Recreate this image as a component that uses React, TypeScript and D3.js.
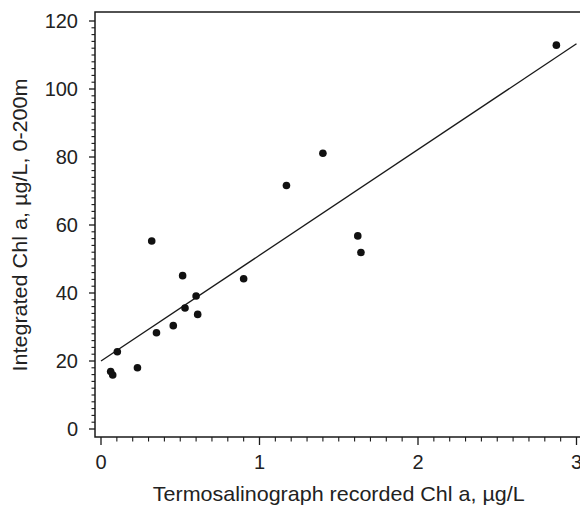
import React from "react";
import * as d3 from "d3";

const xValues = [0.061, 0.074, 0.103, 0.23, 0.32, 0.35, 0.456, 0.515, 0.53, 0.6, 0.61, 0.9, 1.17, 1.4, 1.62, 1.64, 2.873];
const yValues = [16.9, 15.9, 22.7, 18.0, 55.3, 28.3, 30.4, 45.1, 35.6, 39.1, 33.7, 44.2, 71.6, 81.1, 56.8, 51.9, 112.9];
const fitIntercept = 20.0;
const fitSlope = 31.1;
const xMajorTicks = [0, 1, 2, 3];
const yMajorTicks = [0, 20, 40, 60, 80, 100, 120];
const xTitle = "Termosalinograph recorded Chl a, \u00b5g/L";
const yTitle = "Integrated Chl a, \u00b5g/L, 0-200m";

const W = 580;
const H = 506;
const FONT = "'Liberation Sans', Arial, sans-serif";

export default function App() {
  const x = d3.scaleLinear().domain([0, 3]).range([101, 576.5]);
  const y = d3.scaleLinear().domain([0, 120]).range([429, 21]);
  const frameLeft = 95;
  const frameBottom = 437;
  const frameTop = 12;
  const frameRight = 584;

  const xMinor = d3.range(0, 31).map((i) => i / 10).filter((v) => !xMajorTicks.includes(v));
  const yMinor = d3.range(0, 61).map((i) => i * 2).filter((v) => v % 20 !== 0);

  const line = d3
    .line<number>()
    .x((d) => x(d))
    .y((d) => y(fitIntercept + fitSlope * d));

  const stroke = "#1a1a1a";

  return (
    <svg
      width={W}
      height={H}
      style={{ position: "absolute", left: 0, top: 0, background: "#fff" }}
      fontFamily={FONT}
    >
      <rect x={0} y={0} width={W} height={H} fill="#fff" />
      <path
        d={`M${frameRight},${frameTop}H${frameLeft}V${frameBottom}H${frameRight}`}
        fill="none"
        stroke={stroke}
        strokeWidth={1.5}
      />
      {yMajorTicks.map((t) => (
        <g key={"ym" + t}>
          <line x1={frameLeft - 6} x2={frameLeft} y1={y(t)} y2={y(t)} stroke={stroke} strokeWidth={1.3} />
          <text x={78} y={y(t) + 7} textAnchor="end" fontSize={20} fill="#222">
            {t}
          </text>
        </g>
      ))}
      {yMinor.map((t) => (
        <line key={"yn" + t} x1={frameLeft - 3.5} x2={frameLeft} y1={y(t)} y2={y(t)} stroke={stroke} strokeWidth={1.1} />
      ))}
      {xMajorTicks.map((t) => (
        <g key={"xm" + t}>
          <line x1={x(t)} x2={x(t)} y1={frameBottom} y2={frameBottom + 8} stroke={stroke} strokeWidth={1.3} />
          <text x={x(t)} y={469} textAnchor="middle" fontSize={20} fill="#222">
            {t}
          </text>
        </g>
      ))}
      {xMinor.map((t) => (
        <line key={"xn" + t} x1={x(t)} x2={x(t)} y1={frameBottom} y2={frameBottom + 4.5} stroke={stroke} strokeWidth={1.1} />
      ))}
      <path d={line([0, 3]) || ""} fill="none" stroke={stroke} strokeWidth={1.3} />
      {xValues.map((v, i) => (
        <circle key={"p" + i} cx={x(v)} cy={y(yValues[i])} r={3.8} fill="#111" />
      ))}
      <text
        transform={`translate(${(x(0) + x(3)) / 2},501) scale(1.075,1)`}
        textAnchor="middle"
        fontSize={20}
        fill="#222"
      >
        {xTitle}
      </text>
      <text
        transform={`translate(27,${(y(0) + y(120)) / 2}) rotate(-90) scale(1.08,1)`}
        textAnchor="middle"
        fontSize={20}
        fill="#222"
      >
        {yTitle}
      </text>
    </svg>
  );
}
